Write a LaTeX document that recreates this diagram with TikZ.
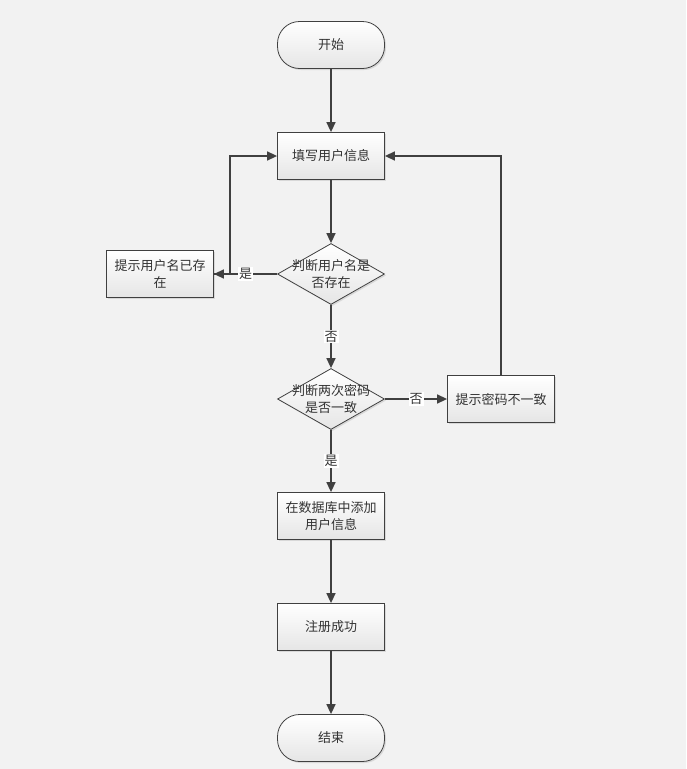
\documentclass[tikz,border=0pt]{standalone}
\usepackage{fontspec}
\setmainfont{Noto Sans CJK SC}
\usetikzlibrary{arrows.meta,shapes.geometric,shadows}
\definecolor{bgcol}{HTML}{F2F2F2}
\definecolor{linecol}{HTML}{404040}
\definecolor{textcol}{HTML}{333333}
\tikzset{
  box/.style={draw=linecol, line width=0.8pt, top color=white, bottom color=black!10,
    minimum width=107pt, minimum height=47pt, inner sep=2pt, align=center,
    drop shadow={shadow xshift=1.5pt, shadow yshift=-1.5pt, fill=black!25}},
  term/.style={box, rounded corners=22pt},
  decide/.style={diamond, draw=linecol, line width=0.8pt, top color=white, bottom color=black!10,
    minimum width=107pt, minimum height=61pt, inner sep=0pt,
    drop shadow={shadow xshift=1.5pt, shadow yshift=-1.5pt, fill=black!25}},
  flow/.style={draw=linecol, line width=1.5pt, -{Triangle[length=10pt,width=9pt]}},
  tag/.style={fill=white, inner sep=1pt}
}
\begin{document}
\begin{tikzpicture}[x=1pt,y=-1pt,font=\fontsize{13pt}{17pt}\selectfont,text=textcol]
  \fill[bgcol] (0,0) rectangle (686,769);
  \useasboundingbox (0,0) rectangle (686,769);
  % nodes
  \node[term] (start) at (331,45) {开始};
  \node[box] (fillinfo) at (331,156) {填写用户信息};
  \node[decide] (chkname) at (331,274) {};
  \node[align=center] (chknametxt) at (chkname) {判断用户名是\\否存在};
  \node[box] (nameexists) at (160,274) {提示用户名已存\\在};
  \node[decide] (chkpwd) at (331,399) {};
  \node[align=center] (chkpwdtxt) at (chkpwd) {判断两次密码\\是否一致};
  \node[box] (pwdwrong) at (501,399) {提示密码不一致};
  \node[box] (savedb) at (331,516) {在数据库中添加\\用户信息};
  \node[box] (success) at (331,627) {注册成功};
  \node[term] (finish) at (331,738) {结束};
  % connectors
  \draw[flow] (start) -- (fillinfo);
  \draw[flow] (fillinfo) -- (chkname);
  \draw[flow] (chkname) -- node[tag] {是} (nameexists);
  \draw[flow] (nameexists.east) -- ++(16,0) |- (fillinfo.west);
  \draw[flow] (chkname) -- node[tag] {否} (chkpwd);
  \draw[flow] (chkpwd) -- node[tag] {否} (pwdwrong);
  \draw[flow] (pwdwrong.north) |- (fillinfo.east);
  \draw[flow] (chkpwd) -- node[tag] {是} (savedb);
  \draw[flow] (savedb) -- (success);
  \draw[flow] (success) -- (finish);
\end{tikzpicture}
\end{document}
